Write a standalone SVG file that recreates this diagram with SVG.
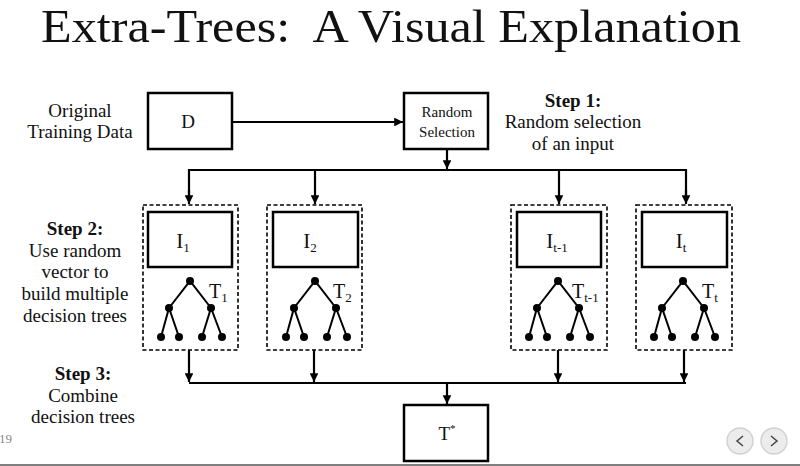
<svg xmlns="http://www.w3.org/2000/svg" width="800" height="466" viewBox="0 0 800 466">
<defs>
<marker id="ah" viewBox="0 0 10 10" refX="10" refY="5" markerWidth="4" markerHeight="4" orient="auto" markerUnits="strokeWidth">
<path d="M0,0 L10,5 L0,10 z" fill="#000"/>
</marker>
<style>
text{font-family:"Liberation Serif","DejaVu Serif",serif;fill:#111;}
.lbl{font-size:19px;text-anchor:middle;}
.b{font-weight:bold;}
.box{fill:#fff;stroke:#000;stroke-width:2.5;}
.dash{fill:none;stroke:#000;stroke-width:1.6;stroke-dasharray:4 2.5;}
.con{fill:none;stroke:#000;stroke-width:2.2;}
.sub{font-size:13px;}
</style>
<g id="tree" stroke="#000" stroke-width="2" fill="#000">
<path d="M-21,27 L0,0 L21,27 M-29,56 L-21,27 L-11,56 M12,56 L21,27 L32,56" fill="none"/>
<circle cx="0" cy="0" r="4" stroke="none"/><circle cx="-21" cy="27" r="4" stroke="none"/><circle cx="21" cy="27" r="4" stroke="none"/>
<circle cx="-29" cy="56" r="4" stroke="none"/><circle cx="-11" cy="56" r="4" stroke="none"/><circle cx="12" cy="56" r="4" stroke="none"/><circle cx="32" cy="56" r="4" stroke="none"/>
</g>
</defs>
<rect width="800" height="466" fill="#fff"/>
<text x="391" y="41.5" font-size="46" text-anchor="middle" textLength="700" lengthAdjust="spacingAndGlyphs">Extra-Trees:&#160; A Visual Explanation</text>

<g id="labels">
<text class="lbl" x="80" y="117">Original</text>
<text class="lbl" x="80" y="138">Training Data</text>
<text class="lbl b" x="573" y="107">Step 1:</text>
<text class="lbl" x="573" y="128">Random selection</text>
<text class="lbl" x="573" y="150">of an input</text>
<text class="lbl b" x="75" y="235">Step 2:</text>
<text class="lbl" x="75" y="257">Use random</text>
<text class="lbl" x="75" y="278">vector to</text>
<text class="lbl" x="75" y="300">build multiple</text>
<text class="lbl" x="75" y="322">decision trees</text>
<text class="lbl b" x="83" y="380">Step 3:</text>
<text class="lbl" x="83" y="402">Combine</text>
<text class="lbl" x="83" y="423">decision trees</text>
</g>

<g id="D">
<rect class="box" x="148" y="93" width="84" height="56"/>
<text x="188" y="128" font-size="19" text-anchor="middle">D</text>
</g>
<g id="random-selection">
<rect class="box" x="404" y="93" width="84" height="56"/>
<text x="447" y="117" font-size="15" text-anchor="middle">Random</text>
<text x="447" y="137" font-size="15" text-anchor="middle">Selection</text>
</g>

<g id="ensemble1">
<rect class="dash" x="143" y="205" width="95" height="145"/>
<rect class="box" x="148" y="212" width="84" height="55"/>
<text x="183" y="248" font-size="21" text-anchor="middle">I<tspan class="sub" dy="4">1</tspan></text>
<use href="#tree" x="190" y="281"/>
<text x="209" y="298" font-size="20">T<tspan class="sub" dy="4">1</tspan></text>
</g>
<g id="ensemble2">
<rect class="dash" x="267" y="205" width="95" height="145"/>
<rect class="box" x="273" y="212" width="85" height="55"/>
<text x="310" y="248" font-size="21" text-anchor="middle">I<tspan class="sub" dy="4">2</tspan></text>
<use href="#tree" x="315" y="281"/>
<text x="333" y="298" font-size="20">T<tspan class="sub" dy="4">2</tspan></text>
</g>
<g id="ensemble3">
<rect class="dash" x="511" y="205" width="96" height="145"/>
<rect class="box" x="517" y="212" width="84" height="55"/>
<text x="557" y="248" font-size="21" text-anchor="middle">I<tspan class="sub" dy="4">t-1</tspan></text>
<use href="#tree" x="558" y="281"/>
<text x="572" y="298" font-size="20">T<tspan class="sub" dy="4">t-1</tspan></text>
</g>
<g id="ensemble4">
<rect class="dash" x="636" y="205" width="96" height="145"/>
<rect class="box" x="642" y="212" width="85" height="55"/>
<text x="681" y="248" font-size="21" text-anchor="middle">I<tspan class="sub" dy="4">t</tspan></text>
<use href="#tree" x="683" y="281"/>
<text x="702" y="298" font-size="20">T<tspan class="sub" dy="4">t</tspan></text>
</g>

<g id="T-star">
<rect class="box" x="404" y="405" width="84" height="56"/>
<text x="447" y="440" font-size="19" text-anchor="middle">T<tspan font-size="11" dy="-8">*</tspan></text>
</g>

<g id="connectors">
<line class="con" x1="232" y1="122" x2="403" y2="122" marker-end="url(#ah)"/>
<line class="con" x1="447" y1="149" x2="447" y2="169" marker-end="url(#ah)"/>
<path class="con" d="M189,196 V170 H686 V196"/>
<line class="con" x1="315" y1="170" x2="315" y2="204" marker-end="url(#ah)"/>
<line class="con" x1="559" y1="170" x2="559" y2="204" marker-end="url(#ah)"/>
<line class="con" x1="189" y1="190" x2="189" y2="204" marker-end="url(#ah)"/>
<line class="con" x1="686" y1="190" x2="686" y2="204" marker-end="url(#ah)"/>
<line class="con" x1="189" y1="383" x2="686" y2="383"/>
<line class="con" x1="189" y1="350" x2="189" y2="382" marker-end="url(#ah)"/>
<line class="con" x1="314" y1="350" x2="314" y2="382" marker-end="url(#ah)"/>
<line class="con" x1="558" y1="350" x2="558" y2="382" marker-end="url(#ah)"/>
<line class="con" x1="684" y1="350" x2="684" y2="382" marker-end="url(#ah)"/>
<line class="con" x1="447" y1="383" x2="447" y2="404" marker-end="url(#ah)"/>
</g>

<text x="-1" y="443" font-size="13" style="fill:#888">19</text>
<g id="nav">
<circle cx="740" cy="441" r="13" fill="#ececec" stroke="#d2d2d2" stroke-width="1.5"/>
<path d="M743,436 L737,441 L743,446" fill="none" stroke="#444" stroke-width="1.5"/>
<circle cx="774" cy="441" r="13" fill="#ececec" stroke="#d2d2d2" stroke-width="1.5"/>
<path d="M771,436 L777,441 L771,446" fill="none" stroke="#444" stroke-width="1.5"/>
</g>
<line x1="0" y1="465" x2="800" y2="465" stroke="#555" stroke-width="1.5"/>
</svg>
